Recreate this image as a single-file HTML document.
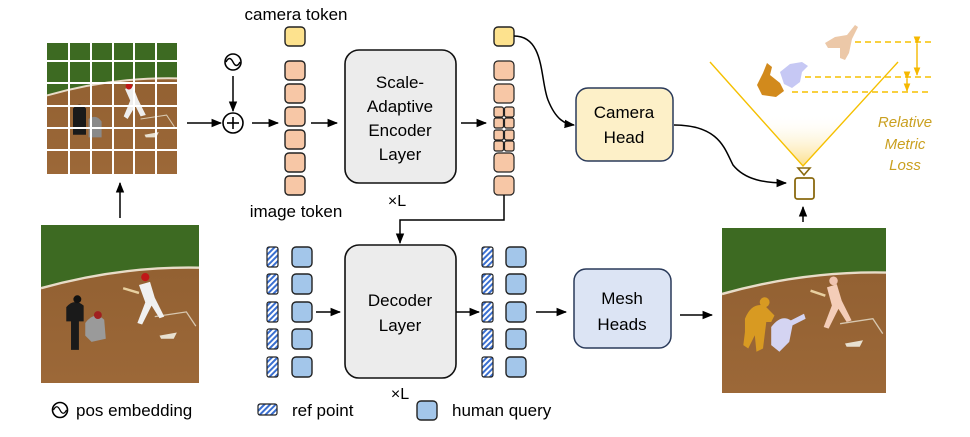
<!DOCTYPE html>
<html><head><meta charset="utf-8"><style>
html,body{margin:0;padding:0;background:#fff;}
svg{display:block;font-family:"Liberation Sans",sans-serif;}
</style></head><body>
<svg width="970" height="437" viewBox="0 0 970 437" xmlns="http://www.w3.org/2000/svg">
<defs>
<marker id="ar" viewBox="0 0 10 10" refX="9" refY="5" markerWidth="7" markerHeight="7" orient="auto"><path d="M0,1 L10,5 L0,9 Z" fill="#000"/></marker>
<marker id="ag" viewBox="0 0 10 10" refX="9" refY="5" markerWidth="6" markerHeight="6" orient="auto"><path d="M0,1 L10,5 L0,9 Z" fill="#f5b800"/></marker>
<pattern id="hat" width="4" height="4" patternUnits="userSpaceOnUse" patternTransform="rotate(45)"><rect width="4" height="4" fill="#fff"/><rect width="2" height="4" fill="#3a6fd0"/></pattern>
<linearGradient id="cone" x1="0" y1="1" x2="0" y2="0"><stop offset="0" stop-color="#fbd66a" stop-opacity="0.8"/><stop offset="0.5" stop-color="#fff" stop-opacity="0"/></linearGradient>
<linearGradient id="dirt" x1="0" y1="0" x2="0" y2="1"><stop offset="0" stop-color="#8f5e30"/><stop offset="1" stop-color="#9c6838"/></linearGradient>
<g id="scene">
<rect width="100" height="100" fill="url(#dirt)"/>
<path d="M0,0 H100 V27 Q50 26 0 40 Z" fill="#3d6a22"/>
<path d="M0,40 Q50 26 100 27" stroke="#e8dcc8" stroke-width="1.5" fill="none"/>
<path d="M72,58 L92,55 L98,64" stroke="#d8c8b0" stroke-width="0.8" fill="none"/>
<path d="M75,70 L86,68 L84,72 L76,72Z" fill="#e8e0d0"/>
</g>
</defs>

<!-- grid image -->
<g transform="translate(47,43) scale(1.3,1.31)"><use href="#scene"/>
<path d="M20,50 q5,-6 10,0 l0,20 l-10,0z" fill="#1a1a1a"/><path d="M32,58 q6,-4 10,2 l0,12 l-10,0z" fill="#8a8a8a"/><path d="M60,35 l6,-2 l4,10 l6,12 l-4,1 l-4,-8 l-6,10 l-3,-2 l5,-12z" fill="#eee"/><circle cx="63" cy="33" r="2.5" fill="#c01818"/></g>
<g stroke="#fff" stroke-width="2">
<line x1="69" y1="43" x2="69" y2="174"/><line x1="91" y1="43" x2="91" y2="174"/><line x1="113" y1="43" x2="113" y2="174"/><line x1="134" y1="43" x2="134" y2="174"/><line x1="156" y1="43" x2="156" y2="174"/>
<line x1="47" y1="61" x2="177" y2="61"/><line x1="47" y1="83" x2="177" y2="83"/><line x1="47" y1="106" x2="177" y2="106"/><line x1="47" y1="128" x2="177" y2="128"/><line x1="47" y1="150" x2="177" y2="150"/>
</g>

<!-- bottom photo -->
<g transform="translate(41,225) scale(1.58,1.58)"><use href="#scene"/>
<path d="M16,52 q5,-6 11,-1 l0,10 l-3,0 l0,18 l-5,0 l0,-18 l-3,0z" fill="#1a1a1a"/><circle cx="23" cy="47" r="2.5" fill="#111"/>
<path d="M28,62 q6,-8 12,-2 l1,12 l-9,2 l-4,-4z" fill="#9a9a9a"/><circle cx="36" cy="57" r="2.5" fill="#a02020"/>
<path d="M62,38 l7,-2 l3,10 l6,12 l-3,1 l-5,-8 l-6,12 l-3,-1 l5,-13z" fill="#f0f0f0"/><circle cx="66" cy="33" r="2.6" fill="#c01818"/><line x1="52" y1="40" x2="62" y2="43" stroke="#e8d0a0" stroke-width="1.5"/>
</g>
<line x1="120" y1="218" x2="120" y2="183" stroke="#000" stroke-width="1.5" marker-end="url(#ar)"/>

<!-- pos embedding + plus -->
<circle cx="233" cy="62" r="8" fill="none" stroke="#000" stroke-width="1.6"/>
<path d="M226,62 q3.5,-7 7,0 t7,0" fill="none" stroke="#000" stroke-width="1.4"/>
<line x1="233" y1="76" x2="233" y2="111" stroke="#000" stroke-width="1.5" marker-end="url(#ar)"/>
<circle cx="233" cy="123" r="10" fill="none" stroke="#000" stroke-width="1.6"/>
<line x1="227" y1="123" x2="239" y2="123" stroke="#000" stroke-width="1.6"/><line x1="233" y1="117" x2="233" y2="129" stroke="#000" stroke-width="1.6"/>
<line x1="187" y1="123" x2="221" y2="123" stroke="#000" stroke-width="1.5" marker-end="url(#ar)"/>
<line x1="252" y1="123" x2="278" y2="123" stroke="#000" stroke-width="1.5" marker-end="url(#ar)"/>

<!-- tokens col 1 -->
<text x="296" y="20" font-size="17" text-anchor="middle">camera token</text>
<rect x="285" y="27" width="20" height="19" rx="4" fill="#fde28e" stroke="#222" stroke-width="1.4"/>
<g fill="#f7c7a6" stroke="#222" stroke-width="1.4">
<rect x="285" y="61" width="20" height="19" rx="4"/><rect x="285" y="84" width="20" height="19" rx="4"/><rect x="285" y="107" width="20" height="19" rx="4"/><rect x="285" y="130" width="20" height="19" rx="4"/><rect x="285" y="153" width="20" height="19" rx="4"/><rect x="285" y="176" width="20" height="19" rx="4"/>
</g>
<text x="296" y="217" font-size="17" text-anchor="middle">image token</text>
<line x1="311" y1="123" x2="337" y2="123" stroke="#000" stroke-width="1.5" marker-end="url(#ar)"/>

<!-- encoder -->
<rect x="345" y="50" width="111" height="133" rx="14" fill="#ececec" stroke="#111" stroke-width="1.6"/>
<g font-size="17" text-anchor="middle"><text x="400" y="88">Scale-</text><text x="400" y="112">Adaptive</text><text x="400" y="136">Encoder</text><text x="400" y="160">Layer</text></g>
<text x="397" y="206" font-size="16" text-anchor="middle">×L</text>
<line x1="461" y1="123" x2="486" y2="123" stroke="#000" stroke-width="1.5" marker-end="url(#ar)"/>

<!-- tokens col 2 -->
<rect x="494" y="27" width="20" height="19" rx="4" fill="#fde28e" stroke="#222" stroke-width="1.4"/>
<g fill="#f7c7a6" stroke="#222" stroke-width="1.2">
<rect x="494" y="61" width="20" height="19" rx="4"/><rect x="494" y="84" width="20" height="19" rx="4"/>
<rect x="494" y="107" width="9.5" height="10" rx="2"/><rect x="504.5" y="107" width="9.5" height="10" rx="2"/><rect x="494" y="118" width="9.5" height="10" rx="2"/><rect x="504.5" y="118" width="9.5" height="10" rx="2"/>
<rect x="494" y="130" width="9.5" height="10" rx="2"/><rect x="504.5" y="130" width="9.5" height="10" rx="2"/><rect x="494" y="141" width="9.5" height="10" rx="2"/><rect x="504.5" y="141" width="9.5" height="10" rx="2"/>
<rect x="494" y="153" width="20" height="19" rx="4"/><rect x="494" y="176" width="20" height="19" rx="4"/>
</g>
<path d="M504,195 V220 H400 V243" fill="none" stroke="#000" stroke-width="1.5" marker-end="url(#ar)"/>

<!-- camera head -->
<path d="M514,36 C545,36 540,80 548,100 C556,120 565,124 574,125" fill="none" stroke="#000" stroke-width="1.5" marker-end="url(#ar)"/>
<rect x="576" y="88" width="97" height="73" rx="12" fill="#fdf0c8" stroke="#2a3a5a" stroke-width="1.5"/>
<g font-size="17" text-anchor="middle"><text x="624" y="118">Camera</text><text x="624" y="143">Head</text></g>
<path d="M674,125 C720,125 725,150 733,165 C745,180 765,183 786,183" fill="none" stroke="#000" stroke-width="1.5" marker-end="url(#ar)"/>

<!-- cone & loss -->
<path d="M710,62 L803,166 L898,62 Z" fill="url(#cone)" stroke="none"/>
<path d="M710,62 L803,166 L898,62" fill="none" stroke="#f5c000" stroke-width="1.4"/>
<g stroke="#f5c000" stroke-width="1.4" stroke-dasharray="6,4">
<line x1="855" y1="42" x2="935" y2="42"/><line x1="805" y1="77" x2="933" y2="77"/><line x1="792" y1="92" x2="930" y2="92"/>
</g>
<line x1="917" y1="44" x2="917" y2="75" stroke="#f5b800" stroke-width="1.4" marker-end="url(#ag)" marker-start="url(#ag)"/>
<line x1="907" y1="79" x2="907" y2="91" stroke="#f5b800" stroke-width="1.4" marker-end="url(#ag)" marker-start="url(#ag)"/>
<!-- figures -->
<path d="M825,43 l10,-6 l12,-2 l8,-10 l3,2 l-6,12 l-3,14 l-4,7 l-5,-2 l0,-10 l-12,0z" fill="#ecc8a8"/>
<path d="M757,85 l6,-12 l4,-10 l5,4 l-2,8 l10,8 l4,8 l-8,6 l-14,-2z" fill="#d28a1c"/>
<path d="M780,72 l10,-8 l12,-2 l6,4 l-6,6 l-2,10 l-8,6 l-8,-4z" fill="#c6c8f4"/>
<text x="905" y="127" font-size="15" font-style="italic" fill="#caa020" text-anchor="middle">Relative</text>
<text x="905" y="149" font-size="15" font-style="italic" fill="#caa020" text-anchor="middle">Metric</text>
<text x="905" y="170" font-size="15" font-style="italic" fill="#caa020" text-anchor="middle">Loss</text>
<!-- camera icon -->
<path d="M798,168 L810,168 L804,175 Z" fill="#fff" stroke="#8a6a10" stroke-width="1.6"/>
<rect x="795" y="178" width="19" height="21" rx="2.5" fill="#fff" stroke="#8a6a10" stroke-width="1.8"/>
<line x1="803" y1="222" x2="803" y2="207" stroke="#000" stroke-width="1.5" marker-end="url(#ar)"/>

<!-- decoder -->
<g fill="url(#hat)" stroke="#222" stroke-width="1.2">
<rect x="267" y="247" width="11" height="20" rx="2"/><rect x="267" y="274" width="11" height="20" rx="2"/><rect x="267" y="302" width="11" height="20" rx="2"/><rect x="267" y="329" width="11" height="20" rx="2"/><rect x="267" y="357" width="11" height="20" rx="2"/>
<rect x="482" y="247" width="11" height="20" rx="2"/><rect x="482" y="274" width="11" height="20" rx="2"/><rect x="482" y="302" width="11" height="20" rx="2"/><rect x="482" y="329" width="11" height="20" rx="2"/><rect x="482" y="357" width="11" height="20" rx="2"/>
</g>
<g fill="#a3c6ea" stroke="#222" stroke-width="1.4">
<rect x="292" y="247" width="20" height="20" rx="4"/><rect x="292" y="274" width="20" height="20" rx="4"/><rect x="292" y="302" width="20" height="20" rx="4"/><rect x="292" y="329" width="20" height="20" rx="4"/><rect x="292" y="357" width="20" height="20" rx="4"/>
<rect x="506" y="247" width="20" height="20" rx="4"/><rect x="506" y="274" width="20" height="20" rx="4"/><rect x="506" y="302" width="20" height="20" rx="4"/><rect x="506" y="329" width="20" height="20" rx="4"/><rect x="506" y="357" width="20" height="20" rx="4"/>
</g>
<line x1="316" y1="312" x2="340" y2="312" stroke="#000" stroke-width="1.5" marker-end="url(#ar)"/>
<rect x="345" y="245" width="111" height="133" rx="14" fill="#ececec" stroke="#111" stroke-width="1.6"/>
<g font-size="17" text-anchor="middle"><text x="400" y="306">Decoder</text><text x="400" y="331">Layer</text></g>
<text x="400" y="399" font-size="16" text-anchor="middle">×L</text>
<line x1="456" y1="312" x2="479" y2="312" stroke="#000" stroke-width="1.5" marker-end="url(#ar)"/>
<line x1="536" y1="312" x2="566" y2="312" stroke="#000" stroke-width="1.5" marker-end="url(#ar)"/>
<rect x="574" y="269" width="97" height="79" rx="12" fill="#dce4f4" stroke="#2a3a5a" stroke-width="1.5"/>
<g font-size="17" text-anchor="middle"><text x="622" y="304">Mesh</text><text x="622" y="330">Heads</text></g>
<line x1="680" y1="315" x2="712" y2="315" stroke="#000" stroke-width="1.5" marker-end="url(#ar)"/>

<!-- result photo -->
<g transform="translate(722,228) scale(1.64,1.65)"><use href="#scene"/>
<path d="M14,55 q4,-10 12,-8 l6,6 l-2,4 l-3,0 l-2,16 l-4,2 l-1,-10 l-4,8 l-3,-2 l1,-8z" fill="#d89a22"/><circle cx="26" cy="45" r="3" fill="#d89a22"/>
<path d="M30,60 q6,-8 12,-4 l8,-4 l1,3 l-8,4 l-2,10 l-6,6 l-5,-4z" fill="#d4d4f2"/>
<path d="M64,36 l6,-2 l3,10 l6,12 l-3,1 l-5,-8 l-6,12 l-3,-1 l5,-13z" fill="#f4cdb8"/><circle cx="68" cy="32" r="2.6" fill="#f0c4b0"/><line x1="54" y1="38" x2="63" y2="41" stroke="#e8d0a0" stroke-width="1.5"/>
</g>

<!-- legend -->
<circle cx="60" cy="410" r="7.5" fill="none" stroke="#000" stroke-width="1.6"/>
<path d="M53.5,410 q3.25,-6.5 6.5,0 t6.5,0" fill="none" stroke="#000" stroke-width="1.3"/>
<text x="76" y="416" font-size="17">pos embedding</text>
<rect x="258" y="404" width="19" height="11" rx="2" fill="url(#hat)" stroke="#222" stroke-width="1.2"/>
<text x="292" y="416" font-size="17">ref point</text>
<rect x="417" y="401" width="20" height="19" rx="4" fill="#a3c6ea" stroke="#222" stroke-width="1.4"/>
<text x="452" y="416" font-size="17">human query</text>
</svg>
</body></html>
